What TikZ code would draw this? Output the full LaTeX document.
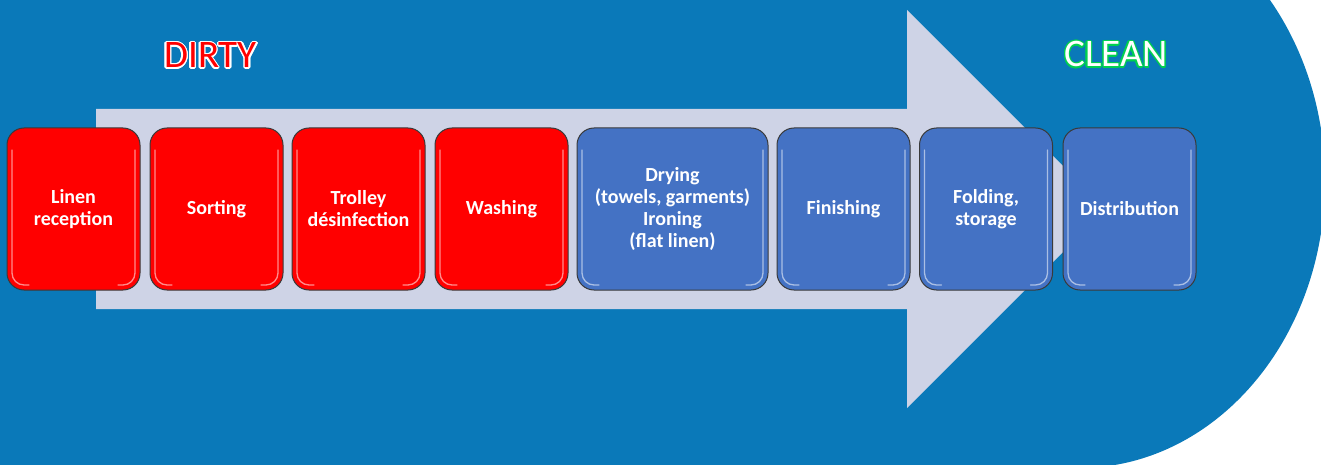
\documentclass[tikz,border=0pt]{standalone}
\usepackage{fontspec}
\setmainfont{Carlito}
\usepackage{contour}
\definecolor{bgblue}{HTML}{0A79B9}
\definecolor{lav}{HTML}{CED3E6}
\definecolor{boxred}{HTML}{FF0000}
\definecolor{boxblue}{HTML}{4472C4}
\definecolor{edge}{HTML}{3A3A3A}
\definecolor{cleangreen}{HTML}{00D050}
\tikzset{
  gloss/.style={path picture={
    \draw[white,opacity=.55,line width=1.3pt,line cap=round,rounded corners=12pt]
      ([xshift=5pt,yshift=-22pt]path picture bounding box.north west)
      -- ([xshift=5pt,yshift=5pt]path picture bounding box.south west)
      -- ([xshift=22pt,yshift=5pt]path picture bounding box.south west);
    \draw[white,opacity=.55,line width=1.3pt,line cap=round,rounded corners=12pt]
      ([xshift=-5pt,yshift=-22pt]path picture bounding box.north east)
      -- ([xshift=-5pt,yshift=5pt]path picture bounding box.south east)
      -- ([xshift=-22pt,yshift=5pt]path picture bounding box.south east);
  }},
  stepbox/.style={draw=edge, line width=1pt, rounded corners=17pt,
    minimum width=133pt, minimum height=162pt, inner sep=2pt,
    align=center, text=white, font=\fontsize{20}{22}\selectfont\bfseries, gloss},
  redbox/.style={stepbox, fill=boxred},
  bluebox/.style={stepbox, fill=boxblue},
  title/.style={anchor=base, inner sep=0pt, font=\fontsize{39}{44}\selectfont}
}
\begin{document}
\begin{tikzpicture}[x=1pt,y=-1pt]
\useasboundingbox (0,0) rectangle (1321,465);
\fill[white] (0,0) rectangle (1321,465);
% background with elliptic right end
\begin{scope}
\clip (0,0) rectangle (1321,465);
\fill[bgblue] (0,-5) rectangle (1080,470);
\fill[bgblue] (1079,181) ellipse [x radius=246, y radius=287];
\end{scope}
% big arrow
\fill[lav] (96,109) -- (907,109) -- (907,10) -- (1106,209) -- (907,408) -- (907,309) -- (96,309) -- cycle;
% titles
\node[title] (dirty) at (210.5,68) {\contourlength{1.3pt}\contour{white}{\textcolor{boxred}{DIRTY}}};
\node[title] (clean) at (1116,67) {\contourlength{1.2pt}\contour{cleangreen}{\textcolor{white}{CLEAN}}};
% steps
\node[redbox] (s1) at (73.5,209) {Linen\\reception};
\node[redbox] (s2) at (216.5,209) {Sorting};
\node[redbox] (s3) at (358.5,209) {Trolley\\désinfection};
\node[redbox] (s4) at (501.5,209) {Washing};
\node[bluebox, minimum width=191pt] (s5) at (672.5,209) {Drying\\(towels, garments)\\Ironing\\(flat linen)};
\node[bluebox] (s6) at (843.5,209) {Finishing};
\node[bluebox] (s7) at (986,209) {Folding,\\storage};
\node[bluebox] (s8) at (1129.5,209) {Distribution};
\end{tikzpicture}
\end{document}
